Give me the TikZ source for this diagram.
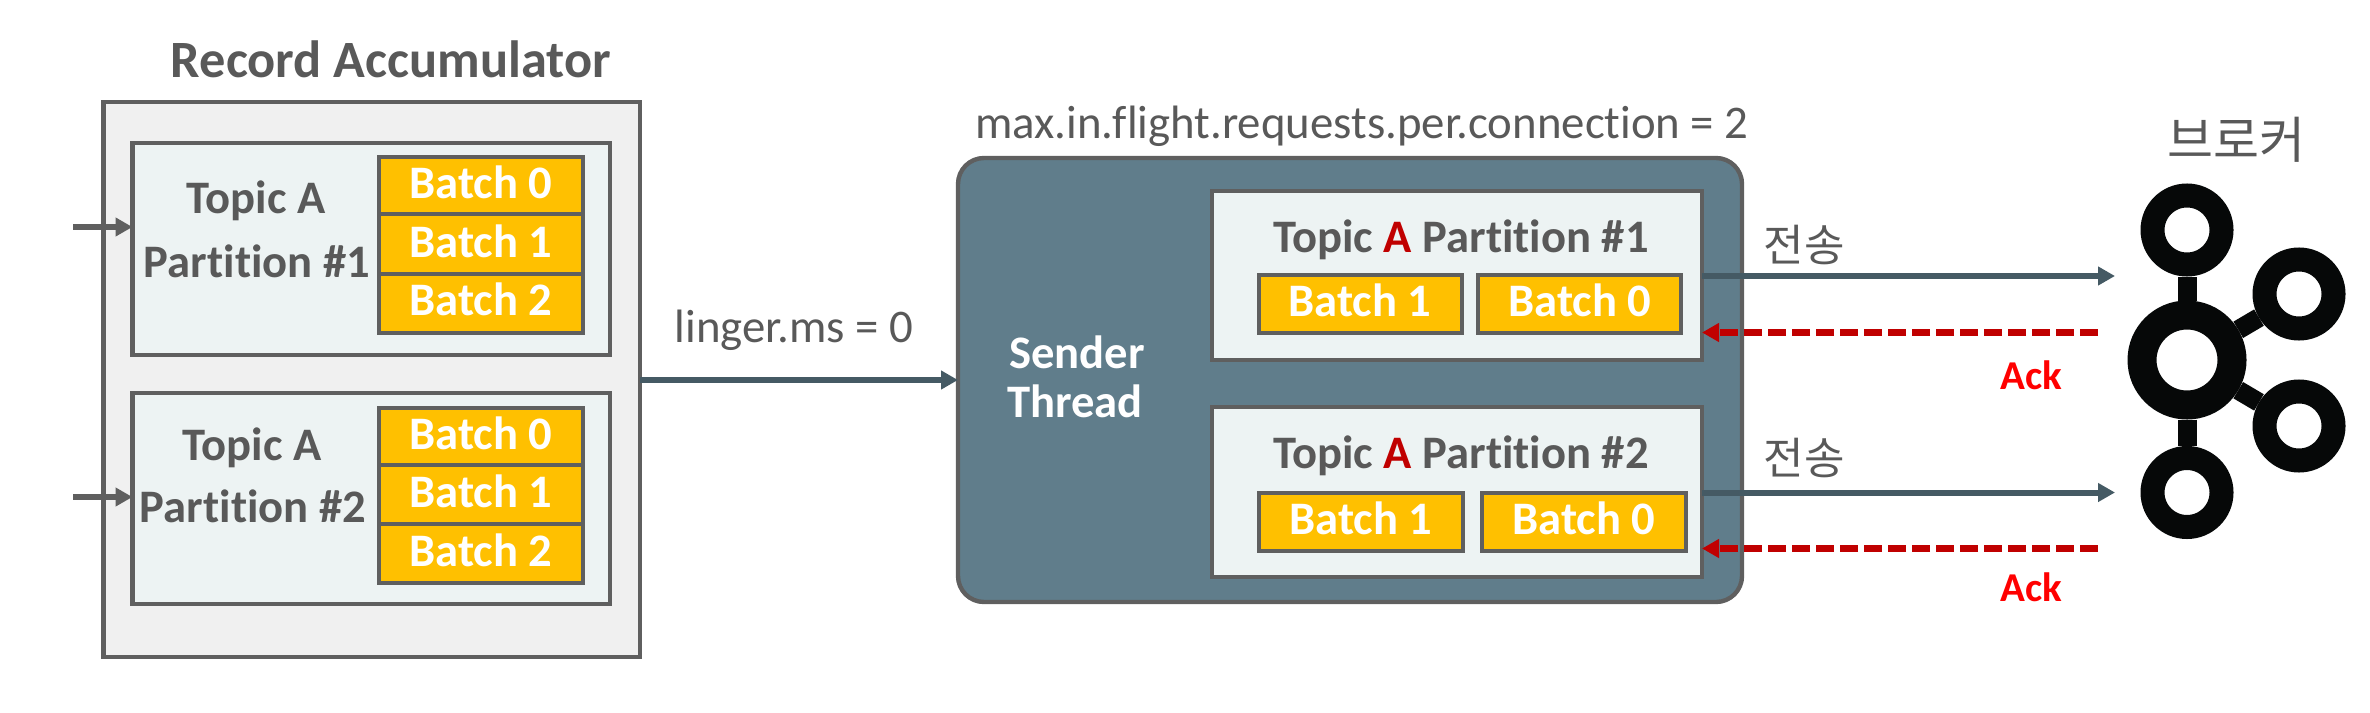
\documentclass[tikz,border=0pt]{standalone}
\usepackage{fontspec}
\setmainfont{Carlito}[Ligatures=CommonOff]
\newfontfamily\krfont{Noto Sans CJK KR}
\usetikzlibrary{fit,arrows.meta}
\definecolor{gtext}{HTML}{595959}
\definecolor{gline}{HTML}{5F5F5F}
\definecolor{outerfill}{HTML}{F0F0F0}
\definecolor{innerfill}{HTML}{EDF3F3}
\definecolor{batchfill}{HTML}{FFC000}
\definecolor{senderfill}{HTML}{607D8B}
\definecolor{arrowdark}{HTML}{455A64}
\definecolor{ackred}{HTML}{C00000}
\definecolor{logoblack}{HTML}{060808}
\tikzset{
  rectbase/.style={inner sep=0pt,outer sep=0pt,draw=gline,line width=2.2pt},
  outerbox/.style={rectbase,fill=outerfill},
  innerbox/.style={rectbase,fill=innerfill},
  senderbox/.style={rectbase,fill=senderfill,rounded corners=13pt},
  batchbox/.style={rectbase,line width=2pt,fill=batchfill,text=white,font=\fontsize{22.5}{24}\selectfont\bfseries},
  boldlabel/.style={anchor=base,inner sep=0pt,text=gtext,font=\fontsize{23.3}{25}\selectfont\bfseries},
  whitelabel/.style={boldlabel,text=white},
  titlelabel/.style={anchor=base,inner sep=0pt,text=gtext,font=\fontsize{26.2}{28}\selectfont\bfseries},
  paramlabel/.style={anchor=base,inner sep=0pt,text=gtext,font=\fontsize{23.4}{25}\selectfont},
  krlabel/.style={anchor=center,inner sep=0pt,text=gtext,font=\krfont\fontsize{22}{24}\selectfont},
  acklabel/.style={anchor=base,inner sep=0pt,text=red,font=\fontsize{20.5}{24}\selectfont\bfseries},
  inarrow/.style={draw=gline,line width=3pt,-{Triangle[length=8.5pt,width=9pt]}},
  darkarrow/.style={draw=arrowdark,line width=3pt,-{Triangle[length=8.5pt,width=9pt]}},
  ackarrow/.style={draw=ackred,line width=3.2pt,dash pattern=on 9pt off 3pt,-{Triangle[length=8.5pt,width=9pt]}},
  smallring/.style={circle,draw=logoblack,line width=12pt,minimum size=34.5pt,inner sep=0pt},
  bigring/.style={circle,draw=logoblack,line width=14.5pt,minimum size=45pt,inner sep=0pt},
  logolink/.style={draw=logoblack,line width=9.5pt},
}
\begin{document}
\begin{tikzpicture}[x=0.5pt,y=-0.5pt]
\useasboundingbox (0,0) rectangle (2370,712);

% Record accumulator
\node[titlelabel] (title) at (391,77) {Record Accumulator};
\node[outerbox,fit={(103.5,102)(640,657)}] (acc) {};
\node[innerbox,fit={(132.5,143)(610,355)}] (part1) {};
\node[innerbox,fit={(132.5,393)(610,604)}] (part2) {};
\node[batchbox,fit={(379,157)(583,214)}] (a0) {};
\node[batchbox,fit={(379,214)(583,274)}] (a1) {};
\node[batchbox,fit={(379,274)(583,333)}] (a2) {};
\node[batchbox,fit={(379,408)(583,465)}] (b0) {};
\node[batchbox,fit={(379,465)(583,524)}] (b1) {};
\node[batchbox,fit={(379,524)(583,583)}] (b2) {};
\node[whitelabel] (a0t) at (481,198) {Batch 0};
\node[whitelabel] (a1t) at (481,257) {Batch 1};
\node[whitelabel] (a2t) at (481,315) {Batch 2};
\node[whitelabel] (b0t) at (481,449) {Batch 0};
\node[whitelabel] (b1t) at (481,507) {Batch 1};
\node[whitelabel] (b2t) at (481,566) {Batch 2};
\node[boldlabel] (p1a) at (256,213) {Topic A};
\node[boldlabel] (p1b) at (257,277) {Partition \#1};
\node[boldlabel] (p2a) at (252,460) {Topic A};
\node[boldlabel] (p2b) at (253,522) {Partition \#2};

\coordinate (in1) at (73,227);
\coordinate (in2) at (73,497);
\draw[inarrow] (in1) -- (in1 -| part1.west);
\draw[inarrow] (in2) -- (in2 -| part2.west);

% Sender thread
\node[paramlabel] (maxin) at (1362,138) {max.in.flight.requests.per.connection = 2};
\node[senderbox,fit={(958,158)(1742,602)}] (sender) {};
\node[innerbox,fit={(1212,191)(1702,360)}] (sp1) {};
\node[innerbox,fit={(1212,407)(1702,577)}] (sp2) {};
\node[boldlabel] (sp1t) at (1461,252) {Topic \textcolor{ackred}{A} Partition \#1};
\node[boldlabel] (sp2t) at (1461,468) {Topic \textcolor{ackred}{A} Partition \#2};
\node[batchbox,fit={(1259,275)(1462,333)}] (c1) {};
\node[batchbox,fit={(1478,275)(1681,333)}] (c0) {};
\node[batchbox,fit={(1259,493)(1463,551)}] (d1) {};
\node[batchbox,fit={(1482,493)(1686,551)}] (d0) {};
\node[whitelabel] (c1t) at (1360,316) {Batch 1};
\node[whitelabel] (c0t) at (1580,316) {Batch 0};
\node[whitelabel] (d1t) at (1361,534) {Batch 1};
\node[whitelabel] (d0t) at (1584,534) {Batch 0};
\node[whitelabel] (s1) at (1077,368) {Sender};
\node[whitelabel] (s2) at (1075,417) {Thread};

% linger
\node[paramlabel] (linger) at (794,342) {linger.ms = 0};
\coordinate (lingery) at (640,380);
\draw[darkarrow] (lingery) -- (lingery -| sender.west);

% Transmission and acks
\coordinate (tx1) at (2115,276);
\coordinate (tx2) at (2115,492.5);
\coordinate (ack1) at (2098,332.5);
\coordinate (ack2) at (2098,548.5);
\draw[darkarrow] (tx1 -| sp1.east) -- (tx1);
\draw[darkarrow] (tx2 -| sp2.east) -- (tx2);
\draw[ackarrow] (ack1) -- (ack1 -| sp1.east);
\draw[ackarrow] (ack2) -- (ack2 -| sp2.east);
\node[krlabel] (tx1t) at (1804,245) {전송};
\node[krlabel] (tx2t) at (1804,458) {전송};
\node[acklabel] (ack1t) at (2031,389) {Ack};
\node[acklabel] (ack2t) at (2031,601) {Ack};

% Broker
\node[krlabel,font=\krfont\fontsize{25}{27}\selectfont] (broker) at (2236,140) {브로커};
\node[bigring] (hub) at (2187,360) {};
\node[smallring] (top) at (2187,230) {};
\node[smallring] (rtop) at (2299,294) {};
\node[smallring] (rbot) at (2299,426) {};
\node[smallring] (bot) at (2187,492.5) {};
\draw[logolink] (hub) -- (top);
\draw[logolink] (hub) -- (rtop);
\draw[logolink] (hub) -- (rbot);
\draw[logolink] (hub) -- (bot);
\end{tikzpicture}
\end{document}
